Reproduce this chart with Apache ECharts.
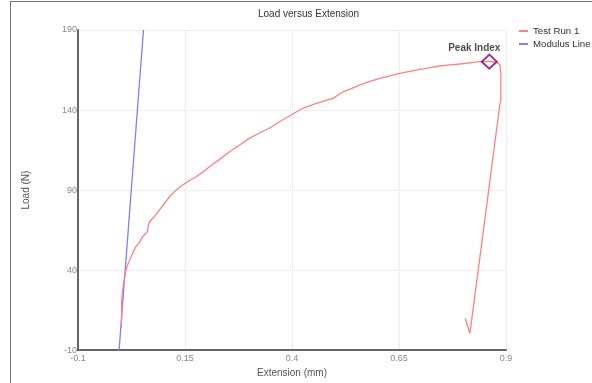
<!DOCTYPE html>
<html><head><meta charset="utf-8">
<script src="https://cdn.jsdelivr.net/npm/echarts@6/dist/echarts.min.js"></script>
<style>html,body{margin:0;padding:0;background:#fff}#c{width:592px;height:383px}</style>
</head><body><div id="c"></div>
<script>
// Test Run 1 (extension mm, load N)
var testX = [0.001,0.002,0.002,0.005,0.006,0.008,0.012,0.017,0.021,0.027,0.035,0.043,0.051,0.062,0.065,0.070,0.080,0.090,0.103,0.117,0.130,0.144,0.160,0.176,0.193,0.207,0.230,0.254,0.277,0.300,0.323,0.347,0.372,0.398,0.425,0.457,0.480,0.496,0.519,0.540,0.558,0.580,0.605,0.628,0.652,0.675,0.699,0.722,0.745,0.770,0.792,0.815,0.839,0.861,0.872,0.880,0.886,0.888,0.888,0.886,0.8157,0.8047];
var testY = [3.5,12,21,22,31,34,40,44,45,50,54.6,57,60.8,64,69,71,74,77.5,82,86.9,90,93.1,95.8,98.3,101.5,104.6,109,113.9,118,122.3,125.5,128.6,132.8,136.9,141.1,144.2,146,147.3,151.4,153.5,155.6,157.7,159.8,161.3,162.9,164.2,165.4,166.5,167.5,168.2,168.75,169.5,170.2,170.4,170.0,169.6,168.1,163,146,144.2,0.4,9.8];
// Modulus line
var modX = [-0.004, 0.053];
var modY = [-10, 190];
// Peak
var peakX = [0.861];
var peakY = [170.2];
var xTicks = ['-0.1','0.15','0.4','0.65','0.9'];
var yTicks = ['-10','40','90','140','190'];

function pairs(a,b){return a.map(function(v,i){return [v,b[i]];});}
var font = 'Liberation Sans, Arial, sans-serif';
var chart = echarts.init(document.getElementById('c'), null, {renderer:'canvas'});
chart.setOption({
  animation:false,
  backgroundColor:'#fff',
  title:{text:'Load versus Extension', left:258, top:9, padding:0,
    textStyle:{fontFamily:font, fontSize:10, fontWeight:'normal', color:'#333'}},
  legend:{orient:'vertical', left:519, top:25, padding:0, itemGap:1, itemWidth:9, itemHeight:2, icon:'rect',
    textStyle:{fontFamily:font, fontSize:9.7, color:'#333', lineHeight:12},
    data:['Test Run 1','Modulus Line']},
  grid:{left:78, right:86, top:30, bottom:32, containLabel:false},
  xAxis:{type:'value', min:-0.1, max:0.9, interval:0.25,
    name:'Extension (mm)', nameLocation:'middle', nameGap:16,
    nameTextStyle:{fontFamily:font, fontSize:10, color:'#555'},
    axisLine:{onZero:false, lineStyle:{color:'#666', width:2}},
    axisTick:{show:false},
    axisLabel:{margin:4, fontFamily:font, fontSize:9, color:'#888',
      formatter:function(v){var i=Math.round((v+0.1)/0.25);return xTicks[i]!==undefined?xTicks[i]:'';}},
    splitLine:{show:true, lineStyle:{color:'#e2e2e2', type:'dotted', width:1}}},
  yAxis:{type:'value', min:-10, max:190, interval:50,
    name:'Load (N)', nameLocation:'middle', nameGap:47, nameRotate:90,
    nameTextStyle:{fontFamily:font, fontSize:10, color:'#555'},
    axisLine:{onZero:false, lineStyle:{color:'#666', width:2}},
    axisTick:{show:false},
    axisLabel:{margin:1, fontFamily:font, fontSize:9, color:'#888',
      formatter:function(v){var i=Math.round((v+10)/50);return yTicks[i]!==undefined?yTicks[i]:'';}},
    splitLine:{show:true, lineStyle:{color:'#e2e2e2', type:'dotted', width:1}}},
  graphic:[
    {type:'line', shape:{x1:10.5,y1:1,x2:10.5,y2:383}, style:{stroke:'#777', lineWidth:1}, silent:true},
    {type:'line', shape:{x1:10,y1:1.5,x2:592,y2:1.5}, style:{stroke:'#777', lineWidth:1}, silent:true}
  ],
  series:[
    {name:'Test Run 1', type:'line', data:pairs(testX,testY), showSymbol:false, symbol:'none',
      lineStyle:{color:'#ff8080', width:1.3}, itemStyle:{color:'#ff8080'}, z:3},
    {name:'Modulus Line', type:'line', data:pairs(modX,modY), showSymbol:false, symbol:'none', clip:true,
      lineStyle:{color:'#8080ff', width:1.3}, itemStyle:{color:'#8080ff'}, z:2},
    {name:'Peak Index', type:'scatter', data:pairs(peakX,peakY), symbol:'diamond', symbolSize:[15,14],
      itemStyle:{color:'rgba(0,0,0,0)', borderColor:'#800080', borderWidth:2}, z:5,
      label:{show:true, formatter:'Peak Index', position:'top', distance:1, offset:[-15,1],
        fontFamily:font, fontSize:10, fontWeight:'bold', color:'#222'}}
  ]
});
</script></body></html>
